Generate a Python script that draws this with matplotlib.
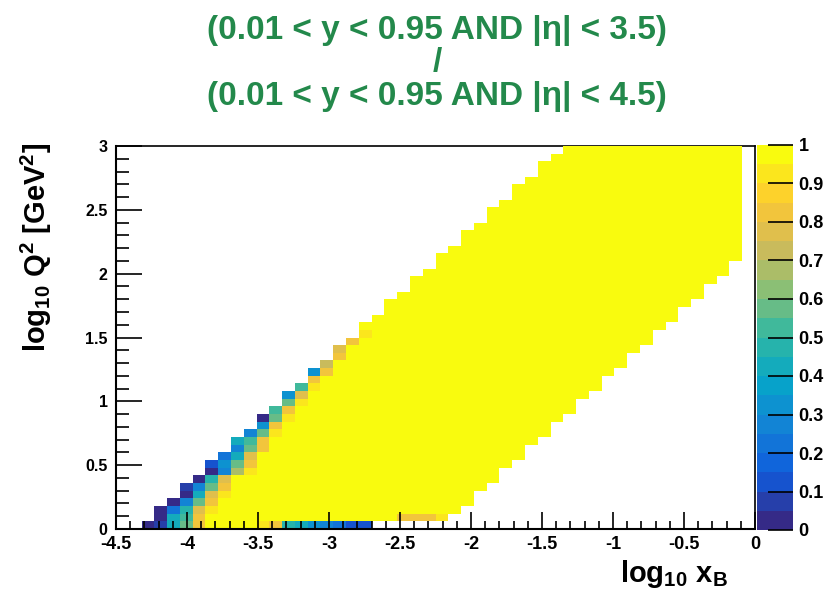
import numpy as np
import matplotlib
matplotlib.use("Agg")
import matplotlib.pyplot as plt
from matplotlib.colors import LinearSegmentedColormap, ListedColormap, BoundaryNorm

plt.rcParams['font.family'] = ['Liberation Sans', 'DejaVu Sans']
plt.rcParams['font.weight'] = 'bold'
plt.rcParams['axes.unicode_minus'] = False
plt.rcParams['mathtext.fontset'] = 'custom'
plt.rcParams['mathtext.rm'] = 'Liberation Sans:bold'
plt.rcParams['mathtext.it'] = 'Liberation Sans:bold'
plt.rcParams['mathtext.bf'] = 'Liberation Sans:bold'

# binning of the histogram: 50 x 50
x_lo, x_hi, nx = -4.5, 0.0, 50
y_lo, y_hi, ny = 0.0, 3.0, 50

# first filled x bin per y row (row 0 = bottom)
row_first = [2, 3, 3, 4, 5, 5, 6, 7, 7, 8, 9, 9, 10, 11, 11, 12, 13, 13, 14, 15,
             15, 16, 17, 17, 18, 19, 19, 20, 21, 21, 22, 23, 23, 24, 25, 25, 26, 27, 27, 28,
             29, 29, 30, 31, 31, 32, 33, 33, 34, 35]
# last filled x bin (exclusive) per y row
row_last = [20, 26, 27, 28, 28, 29, 30, 30, 31, 32, 32, 33, 34, 34, 35, 36, 36, 37, 38, 38,
            39, 40, 40, 41, 42, 42, 43, 44, 44, 45, 46, 46, 47, 48, 48, 49, 49, 49, 49, 49,
            49, 49, 49, 49, 49, 49, 49, 49, 49, 49]

# ratio values of the low-acceptance cells at the left edge of each row
left_edge = [
    [0.02, 0.07, 0.4, 0.6, 0.85],
    [0.02, 0.4, 0.5, 0.85],
    [0.02, 0.2, 0.45, 0.75, 0.9],
    [0.02, 0.3, 0.6, 0.85],
    [0.02, 0.4, 0.75, 0.9],
    [0.07, 0.25, 0.6, 0.85],
    [0.02, 0.45, 0.75],
    [0.02, 0.3, 0.65, 0.9],
    [0.15, 0.35, 0.6, 0.85],
    [0.2, 0.4, 0.75],
    [0.3, 0.55, 0.85],
    [0.4, 0.5, 0.85],
    [0.25, 0.6, 0.95],
    [0.35, 0.85],
    [0.02, 0.6, 0.95],
    [0.5, 0.85],
    [0.6, 0.9],
    [0.35, 0.75],
    [0.5, 0.92],
    [0.85],
    [0.35, 0.85],
    [0.72],
    [0.85],
    [0.75],
    [0.85],
    [0.92],
]
# bottom row, bins 11..19
row0_tail = [0.9, 0.8, 0.45, 0.4, 0.35, 0.25, 0.2, 0.15, 0.15]
# second row, bins 22..25
row1_tail = [0.85, 0.85, 0.85, 0.9]

# ROOT kBird palette, 20 contours
bird_stops = [0.0, 0.125, 0.25, 0.375, 0.5, 0.625, 0.75, 0.875, 1.0]
bird_r = [0.2082, 0.0592, 0.0780, 0.0232, 0.1802, 0.5301, 0.8186, 0.9956, 0.9764]
bird_g = [0.1664, 0.3599, 0.5041, 0.6419, 0.7178, 0.7492, 0.7328, 0.7862, 0.9832]
bird_b = [0.5293, 0.8684, 0.8385, 0.7914, 0.6425, 0.4662, 0.3499, 0.1968, 0.0539]
bird = LinearSegmentedColormap.from_list(
    'bird', list(zip(bird_stops, zip(bird_r, bird_g, bird_b))))
ncont = 20
cmap = ListedColormap([bird(k / (ncont - 1)) for k in range(ncont)])
norm = BoundaryNorm(np.linspace(0, 1, ncont + 1), ncont)

eff = np.full((ny, nx), np.nan)
for j in range(ny):
    eff[j, row_first[j]:row_last[j]] = 1.0
    if j < len(left_edge):
        v = left_edge[j]
        eff[j, row_first[j]:row_first[j] + len(v)] = v
eff[0, 11:11 + len(row0_tail)] = row0_tail
eff[1, 22:22 + len(row1_tail)] = row1_tail
eff = np.ma.masked_invalid(eff)

xe = np.linspace(x_lo, x_hi, nx + 1)
ye = np.linspace(y_lo, y_hi, ny + 1)

fig = plt.figure(figsize=(8.25, 5.93), dpi=100)
ax = fig.add_axes([116 / 825, 64 / 593, 639 / 825, 383 / 593])
cax = fig.add_axes([757 / 825, 63 / 593, 36 / 825, 385 / 593])

mesh = ax.pcolormesh(xe, ye, eff, cmap=cmap, norm=norm, zorder=1)

ax.set_xlim(x_lo, x_hi)
ax.set_ylim(y_lo, y_hi)
ax.set_xticks(np.arange(-4.5, 0.01, 0.5))
ax.set_xticks(np.arange(-4.5, 0.01, 0.1), minor=True)
ax.set_yticks(np.arange(0, 3.01, 0.5))
ax.set_yticks(np.arange(0, 3.01, 0.1), minor=True)
ax.set_xticklabels(['%g' % v for v in np.arange(-4.5, 0.01, 0.5)])
ax.set_yticklabels(['%g' % v for v in np.arange(0, 3.01, 0.5)])
ax.tick_params(axis='x', which='major', direction='in', length=12, width=1.2,
               labelsize=13, pad=5)
ax.tick_params(axis='x', which='minor', direction='in', length=6, width=1.2)
ax.tick_params(axis='y', which='major', direction='in', length=19, width=1.2,
               labelsize=11.5, pad=6)
ax.tick_params(axis='y', which='minor', direction='in', length=9, width=1.2)
for s in ['left', 'bottom']:
    ax.spines[s].set_linewidth(1.5)
for s in ['top', 'right']:
    ax.spines[s].set_linewidth(1.2)
    ax.spines[s].set_zorder(0.5)

cb = fig.colorbar(mesh, cax=cax, ticks=np.arange(0, 1.01, 0.1))
cb.outline.set_visible(False)
cax.yaxis.set_ticks_position('right')
cax.set_yticklabels(['%g' % round(v, 1) for v in np.arange(0, 1.01, 0.1)])
cax.tick_params(axis='y', direction='in', length=18, width=1.2, labelsize=13, pad=4)
cax.minorticks_off()

green = '#23894b'
fig.text(0.53, 1 - 30 / 593, '(0.01 < y < 0.95 AND |η| < 3.5)', color=green,
         fontsize=24, ha='center', va='center', fontweight='bold')
fig.text(0.53, 1 - 63 / 593, '/', color=green,
         fontsize=24, ha='center', va='center', fontweight='bold')
fig.text(0.53, 1 - 97 / 593, '(0.01 < y < 0.95 AND |η| < 4.5)', color=green,
         fontsize=24, ha='center', va='center', fontweight='bold')

fig.text(36 / 825, 1 - 143 / 593, r'log$_{10}$ Q$^{2}$ [GeV$^{2}$]', rotation=90,
         ha='center', va='top', fontsize=21, fontweight='bold')
fig.text(728 / 825, 1 - 582 / 593, r'log$_{10}$ x$_{B}$',
         ha='right', va='baseline', fontsize=21, fontweight='bold')

fig.savefig('out.png', dpi=100)
